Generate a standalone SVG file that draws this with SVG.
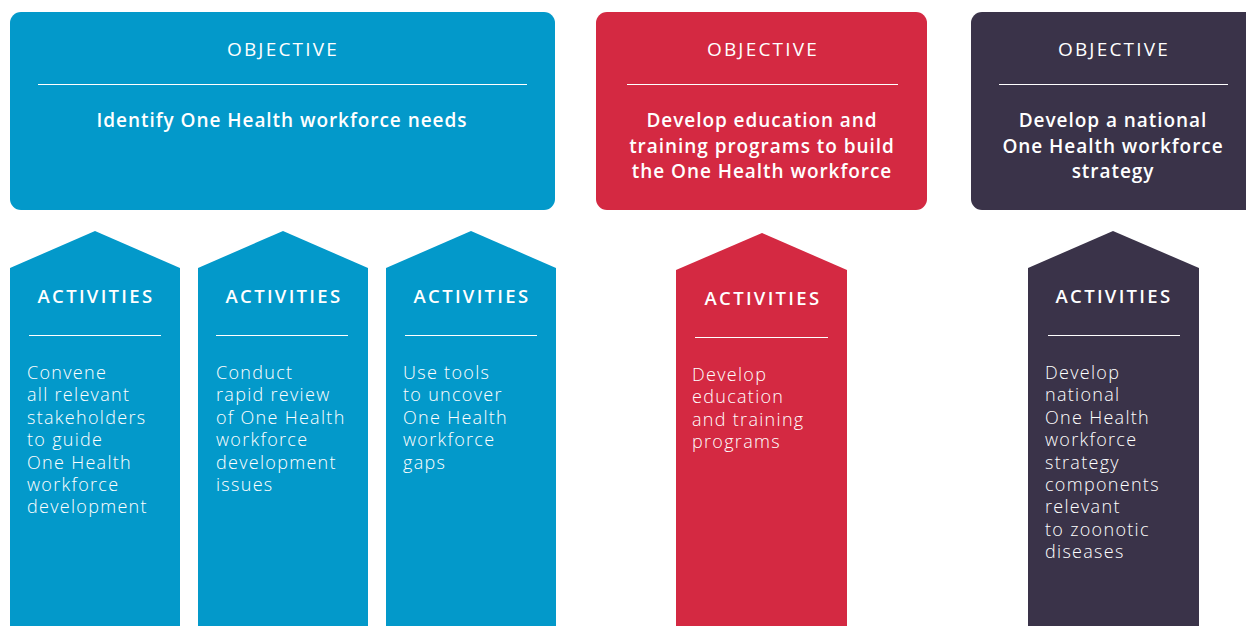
<svg xmlns="http://www.w3.org/2000/svg" width="1246" height="626" viewBox="0 0 1246 626">
<style>
.blue{fill:#0399CA}
.red{fill:#D42942}
.dark{fill:#3A3349}
.rule{stroke:#ffffff;stroke-width:1.2}
.hd{font-family:"Open Sans","Liberation Sans",sans-serif;font-size:19px;font-weight:500;fill:#fff;text-anchor:middle;letter-spacing:2.2px}
.ob{font-family:"Open Sans","Liberation Sans",sans-serif;font-size:19px;font-weight:600;fill:#fff;text-anchor:middle;letter-spacing:0.95px}
.ac{font-family:"Open Sans","Liberation Sans",sans-serif;font-size:18.5px;font-weight:600;fill:#fff;text-anchor:middle;letter-spacing:2.3px}
.bd{font-family:"Open Sans","Liberation Sans",sans-serif;font-size:18px;font-weight:300;fill:#fff;letter-spacing:1.3px}
</style>
<rect width="1246" height="626" fill="#ffffff"/>
<g id="objective1">
<rect class="blue" x="10" y="12" width="545" height="198" rx="11"/>
<text class="hd" x="283" y="56">OBJECTIVE</text>
<line class="rule" x1="38" y1="84.5" x2="527" y2="84.5"/>
<text class="ob" x="282" y="127">Identify One Health workforce needs</text>
</g>
<g id="objective2">
<rect class="red" x="596" y="12" width="331" height="198" rx="11"/>
<text class="hd" x="763" y="56">OBJECTIVE</text>
<line class="rule" x1="627" y1="84.5" x2="898" y2="84.5"/>
<text class="ob" x="762" y="127">Develop education and</text>
<text class="ob" x="762" y="152.5">training programs to build</text>
<text class="ob" x="762" y="178">the One Health workforce</text>
</g>
<g id="objective3">
<rect class="dark" x="971" y="12" width="290" height="198" rx="11"/>
<text class="hd" x="1114" y="56">OBJECTIVE</text>
<line class="rule" x1="999" y1="84.5" x2="1228" y2="84.5"/>
<text class="ob" x="1113" y="127">Develop a national</text>
<text class="ob" x="1113" y="152.5">One Health workforce</text>
<text class="ob" x="1113" y="178">strategy</text>
</g>
<g id="activity1">
<polygon class="blue" points="10,268 95,231 180,268 180,626 10,626"/>
<text class="ac" x="96" y="303">ACTIVITIES</text>
<line class="rule" x1="29" y1="335.5" x2="161" y2="335.5"/>
<text class="bd" x="27" y="379">Convene</text>
<text class="bd" x="27" y="401.4">all relevant</text>
<text class="bd" x="27" y="423.8">stakeholders</text>
<text class="bd" x="27" y="446.2">to guide</text>
<text class="bd" x="27" y="468.6">One Health</text>
<text class="bd" x="27" y="491">workforce</text>
<text class="bd" x="27" y="513.4">development</text>
</g>
<g id="activity2">
<polygon class="blue" points="198,268 283,231 368,268 368,626 198,626"/>
<text class="ac" x="284" y="303">ACTIVITIES</text>
<line class="rule" x1="216" y1="335.5" x2="348" y2="335.5"/>
<text class="bd" x="216" y="379">Conduct</text>
<text class="bd" x="216" y="401.4">rapid review</text>
<text class="bd" x="216" y="423.8">of One Health</text>
<text class="bd" x="216" y="446.2">workforce</text>
<text class="bd" x="216" y="468.6">development</text>
<text class="bd" x="216" y="491">issues</text>
</g>
<g id="activity3">
<polygon class="blue" points="386,268 471,231 556,268 556,626 386,626"/>
<text class="ac" x="472" y="303">ACTIVITIES</text>
<line class="rule" x1="405" y1="335.5" x2="537" y2="335.5"/>
<text class="bd" x="403" y="379">Use tools</text>
<text class="bd" x="403" y="401.4">to uncover</text>
<text class="bd" x="403" y="423.8">One Health</text>
<text class="bd" x="403" y="446.2">workforce</text>
<text class="bd" x="403" y="468.6">gaps</text>
</g>
<g id="activity4">
<polygon class="red" points="676,270 762,233 847,270 847,626 676,626"/>
<text class="ac" x="763" y="305">ACTIVITIES</text>
<line class="rule" x1="695" y1="337.5" x2="828" y2="337.5"/>
<text class="bd" x="692" y="381">Develop</text>
<text class="bd" x="692" y="403.4">education</text>
<text class="bd" x="692" y="425.8">and training</text>
<text class="bd" x="692" y="448.2">programs</text>
</g>
<g id="activity5">
<polygon class="dark" points="1028,268 1113,231 1199,268 1199,626 1028,626"/>
<text class="ac" x="1114" y="303">ACTIVITIES</text>
<line class="rule" x1="1048" y1="335.5" x2="1180" y2="335.5"/>
<text class="bd" x="1045" y="379">Develop</text>
<text class="bd" x="1045" y="401.4">national</text>
<text class="bd" x="1045" y="423.8">One Health</text>
<text class="bd" x="1045" y="446.2">workforce</text>
<text class="bd" x="1045" y="468.6">strategy</text>
<text class="bd" x="1045" y="491">components</text>
<text class="bd" x="1045" y="513.4">relevant</text>
<text class="bd" x="1045" y="535.8">to zoonotic</text>
<text class="bd" x="1045" y="558.2">diseases</text>
</g>
<g id="connectors"></g>
</svg>
